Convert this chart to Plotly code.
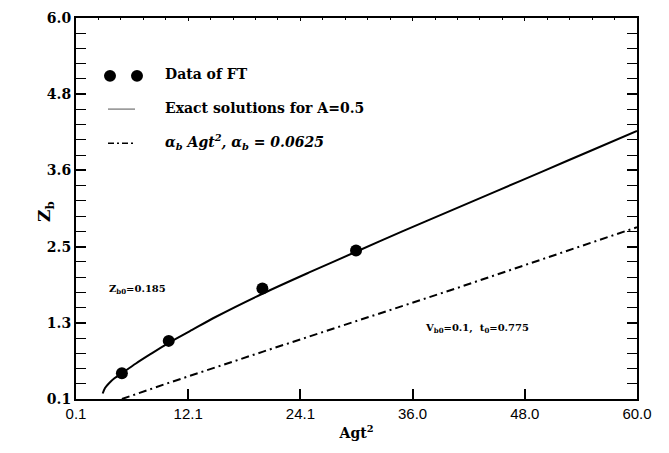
import plotly.graph_objects as go

# ---- data ----
ft_x = [5, 10, 20, 30]
ft_y = [0.50, 1.00, 1.81, 2.40]

exact_x = [2.95, 3.2, 3.6, 4.2, 5.0, 6.5, 8.0, 10.0, 12.5, 15.0, 20.0, 25.0, 30.0, 35.0, 40.0, 45.0, 50.0, 55.0, 60.0]
exact_y = [0.185, 0.27, 0.34, 0.42, 0.50, 0.65, 0.79, 0.97, 1.17, 1.37, 1.73, 2.06, 2.38, 2.70, 3.01, 3.32, 3.63, 3.94, 4.25]

alpha_x = [5.0, 10.0, 20.0, 30.0, 40.0, 50.0, 60.0]
alpha_y = [0.10, 0.35, 0.83, 1.30, 1.78, 2.27, 2.76]

x_ticks = [0.1, 12.08, 24.06, 36.04, 48.02, 60.0]
x_tick_labels = ["0.1", "12.1", "24.1", "36.0", "48.0", "60.0"]
y_ticks = [0.1, 1.28, 2.46, 3.64, 4.82, 6.0]
y_tick_labels = ["0.1", "1.3", "2.5", "3.6", "4.8", "6.0"]

legend_labels = ["Data of FT", "Exact solutions for A=0.5",
                 "<i>α<sub>b</sub> Agt<sup>2</sup>, α<sub>b</sub> = 0.0625</i>"]

W, H = 669, 453
L, R, T, B = 76, 637, 10, 399
SERIF = "DejaVu Serif"

def px(xp):
    return (xp - L) / (R - L)

def py(yp):
    return (B - yp) / (B - T)

fig = go.Figure()
fig.add_trace(go.Scatter(x=exact_x, y=exact_y, mode="lines",
                         line=dict(color="black", width=2, shape="spline", smoothing=0.8),
                         showlegend=False))
fig.add_trace(go.Scatter(x=alpha_x, y=alpha_y, mode="lines",
                         line=dict(color="black", width=2, dash="8px,4px,2px,4px"),
                         showlegend=False))
fig.add_trace(go.Scatter(x=ft_x, y=ft_y, mode="markers",
                         marker=dict(color="black", size=12),
                         showlegend=False))
# invisible trace for top axis
fig.add_trace(go.Scatter(x=[0.1, 60], y=[0.1, 0.1], mode="lines",
                         line=dict(width=0), xaxis="x2", showlegend=False,
                         hoverinfo="skip"))

fig.update_layout(
    width=W, height=H,
    margin=dict(l=L, r=W - R, t=T, b=H - B),
    plot_bgcolor="white", paper_bgcolor="white",
    xaxis=dict(range=[0.1, 60], tickvals=x_ticks, ticktext=x_tick_labels,
               ticks="inside", ticklen=10, tickwidth=1.5, tickcolor="black",
               showline=True, linecolor="black", linewidth=2, mirror=True,
               showgrid=False, zeroline=False,
               tickfont=dict(family="Liberation Sans", size=15, color="black"),
               title=dict(text="<b>Agt<sup>2</sup></b>", standoff=7,
                          font=dict(family=SERIF, size=14, color="black"))),
    xaxis2=dict(range=[0.1, 60], overlaying="x", side="top", matches="x",
                tickvals=x_ticks, showticklabels=False,
                ticks="inside", ticklen=3, tickcolor="black",
                minor=dict(ticks="inside", ticklen=2, dtick=2.396, tick0=0.1, tickcolor="black"),
                showgrid=False, zeroline=False, showline=False),
    yaxis=dict(range=[0.1, 6.0], tickvals=y_ticks, ticktext=y_tick_labels,
               ticks="inside", ticklen=10, tickwidth=1.5, tickcolor="black",
               showline=True, linecolor="black", linewidth=2, mirror="allticks",
               minor=dict(ticks="inside", ticklen=4, tickvals=[0.1 + 0.236 * k for k in range(26)],
                          tickcolor="black", tickwidth=1),
               showgrid=False, zeroline=False,
               tickfont=dict(family=SERIF, size=14, color="black", weight="bold")),
    showlegend=False,
)

# y-axis title (rotated)
fig.add_annotation(x=px(46), y=py(208), xref="paper", yref="paper",
                   text="<b>Z<sub>b</sub></b>", textangle=-90, showarrow=False,
                   xanchor="center", yanchor="middle",
                   font=dict(family=SERIF, size=17, color="black"))

# annotations in the plot
fig.add_annotation(x=3.4, y=1.80, xref="x", yref="y", text="<b>Z<sub>b0</sub>=0.185</b>",
                   showarrow=False, xanchor="left", yanchor="middle",
                   font=dict(family=SERIF, size=10, color="black"))
fig.add_annotation(x=37.15, y=1.19, xref="x", yref="y",
                   text="<b>V<sub>b0</sub>=0.1,  t<sub>0</sub>=0.775</b>",
                   showarrow=False, xanchor="left", yanchor="middle",
                   font=dict(family=SERIF, size=10, color="black"))

# custom legend
for cx in (110, 137):
    fig.add_shape(type="circle", xref="paper", yref="paper",
                  x0=px(cx - 6), x1=px(cx + 6), y0=py(69 + 6), y1=py(69 - 6),
                  fillcolor="black", line=dict(color="black", width=0))
fig.add_shape(type="line", xref="paper", yref="paper",
              x0=px(108), x1=px(135), y0=py(103), y1=py(103),
              line=dict(color="#555555", width=1))
fig.add_shape(type="line", xref="paper", yref="paper",
              x0=px(108), x1=px(136), y0=py(138), y1=py(138),
              line=dict(color="black", width=1.5, dash="6px,3px,2px,3px"))
for lbl, yy in zip(legend_labels, (67, 102, 137)):
    fig.add_annotation(x=px(163), y=py(yy), xref="paper", yref="paper",
                       text="<b>" + lbl + "</b>", showarrow=False,
                       xanchor="left", yanchor="middle",
                       font=dict(family=SERIF, size=14, color="black"))

fig.write_html("out.html")
